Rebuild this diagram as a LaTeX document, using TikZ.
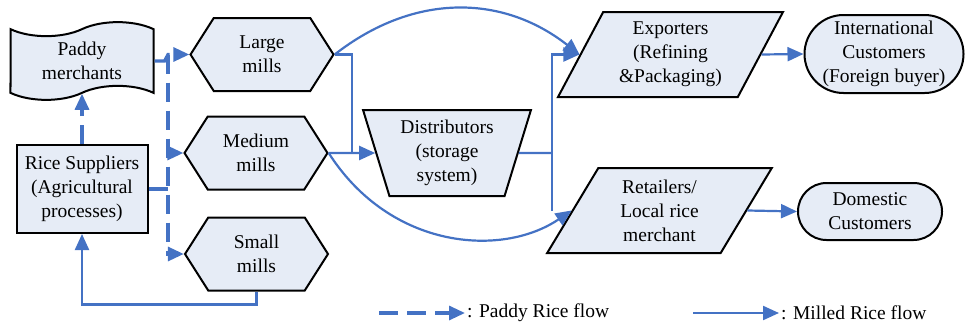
\documentclass[tikz,border=0pt]{standalone}
\usepackage{fontspec}
\setmainfont{Liberation Serif}
\usetikzlibrary{arrows.meta,shapes.geometric,shapes.misc,shapes.symbols}
\definecolor{fillc}{HTML}{E6ECF6}
\definecolor{flowc}{HTML}{4472C4}
\begin{document}
\begin{tikzpicture}[x=1pt,y=-1pt,
  every node/.style={font=\fontsize{19.5}{24}\selectfont},
  box/.style={draw=black,line width=2pt,fill=fillc,align=center,inner sep=0pt},
  hexa/.style={box,signal,signal to=west and east,signal pointer angle=115,minimum width=143pt,minimum height=73pt},
  tapebox/.style={box,tape,minimum width=143pt,inner ysep=6pt,tape bend height=14pt},
  rectbox/.style={box,rectangle,minimum width=131pt,minimum height=88pt},
  trapbox/.style={box,trapezium,trapezium stretches=true,shape border rotate=180,trapezium angle=72,minimum width=168pt,minimum height=86pt},
  parabox/.style={box,trapezium,trapezium stretches=true,trapezium left angle=62,trapezium right angle=118,minimum width=225pt,minimum height=85pt},
  stadium/.style={box,rounded rectangle},
  tipc/.style={-{Triangle[length=16pt,width=14pt]}},
  milled/.style={draw=flowc,line width=2.2pt},
  paddyflow/.style={draw=flowc,line width=3.2pt,dash pattern=on 19pt off 9pt},
  legtext/.style={anchor=west,inner sep=0pt}
]
\useasboundingbox (0,0) rectangle (965,324);

% nodes
\node[tapebox] (paddy) at (82,61) {Paddy\\merchants};
\node[rectbox] (rice) at (82,189) {Rice Suppliers\\(Agricultural\\processes)};
\node[hexa] (large) at (262,54.5) {Large\\mills};
\node[hexa] (medium) at (256,153) {Medium\\mills};
\node[hexa] (small) at (256.5,254) {Small\\mills};
\node[trapbox] (dist) at (447,153) {Distributors\\(storage\\system)};
\node[parabox] (exp) at (670.5,54.5) {Exporters\\(Refining\\\&Packaging)};
\node[parabox] (ret) at (659.5,210.5) {Retailers/\\Local rice\\merchant};
\node[stadium,minimum width=159pt,minimum height=78pt] (intl) at (884,54) {International\\Customers\\(Foreign buyer)};
\node[stadium,minimum width=144pt,minimum height=57pt] (dom) at (870,211.5) {Domestic\\Customers};

% junctions
\coordinate (jt) at (168,54.5);
\coordinate (jm) at (352,153);
\coordinate (jd) at (552,153);

% paddy rice flow (dashed)
\draw[paddyflow,tipc] (rice.north) -- (paddy.south);
\draw[paddyflow,tipc] (paddy.east) -- ++(10,0) -- (jt) -- (large.west);
\draw[paddyflow,tipc] (jt) |- (small.west);
\draw[paddyflow,tipc] (jt |- medium.west) -- (medium.west);
\draw[paddyflow] (rice.east) -- (jt |- rice.east);

% milled rice flow (solid)
\draw[milled,tipc] (small.south) -- ++(0,13) -| (rice.south);
\draw[milled] (large.east) -| (jm);
\draw[milled,tipc] (medium.east) -- (dist.west);
\draw[milled,tipc] (large.east) .. controls +(78,-61) and +(-78,-61) .. (exp.west);
\draw[milled,tipc] (medium.east) .. controls +(62,97) and +(-69,47) .. (ret.west);
\draw[milled] (dist.east) -- (jd);
\draw[milled,tipc] (jd) |- (exp.west);
\draw[milled] (jd) -- ++(0,58);
\draw[milled,tipc] (exp.east) -- (intl.west);
\draw[milled,tipc] (ret.east) -- (dom.west);

% legend
\coordinate (l1a) at (379,313);
\coordinate (l1b) at (465,313);
\coordinate (l2a) at (693,313);
\coordinate (l2b) at (779,313);
\draw[paddyflow,tipc] (l1a) -- (l1b);
\node[legtext] (lt1) at (467,313) {: Paddy Rice flow};
\draw[milled,tipc] (l2a) -- (l2b);
\node[legtext] (lt2) at (781,313) {: Milled Rice flow};
\end{tikzpicture}
\end{document}
